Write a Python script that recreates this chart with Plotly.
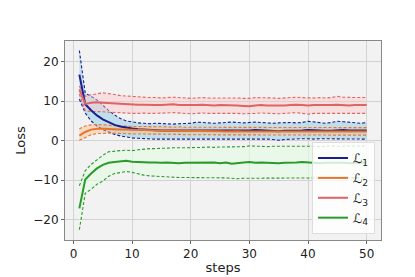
import plotly.graph_objects as go

steps = list(range(1, 51))

l1_mean = [16.7, 9.2, 7.7, 6.4, 5.4, 4.6, 4.0, 3.6, 3.3, 3.1, 2.9, 2.8, 2.7, 2.7, 2.6, 2.6, 2.6, 2.6, 2.6, 2.6,
           2.6, 2.5, 2.6, 2.5, 2.5, 2.6, 2.5, 2.5, 2.6, 2.6, 2.7, 2.6, 2.5, 2.5, 2.4, 2.5, 2.5, 2.6, 2.6, 2.7,
           2.6, 2.6, 2.5, 2.5, 2.6, 2.7, 2.6, 2.6, 2.5, 2.6]
l1_upper = [22.8, 12.0, 11.2, 10.3, 9.0, 7.6, 6.5, 5.6, 5.0, 4.7, 4.5, 4.4, 4.3, 4.4, 4.3, 4.3, 4.2, 4.3, 4.3, 4.4,
            4.7, 4.6, 4.5, 4.4, 4.5, 4.6, 4.7, 4.6, 4.5, 4.6, 4.7, 4.6, 4.5, 4.4, 4.5, 4.6, 4.6, 4.5, 4.6, 4.9,
            4.7, 4.5, 4.4, 4.6, 4.9, 4.8, 4.7, 4.5, 4.4, 4.6]
l1_lower = [10.5, 7.0, 5.0, 3.7, 2.8, 2.1, 1.6, 1.2, 0.9, 0.7, 0.6, 0.5, 0.5, 0.4, 0.4, 0.4, 0.5, 0.4, 0.4, 0.5,
            0.5, 0.4, 0.4, 0.5, 0.4, 0.4, 0.5, 0.5, 0.4, 0.5, 0.5, 0.4, 0.4, 0.3, 0.1, 0.3, 0.4, 0.4, 0.5, 0.5,
            0.4, 0.5, 0.5, 0.4, 0.4, 0.5, 0.4, 0.4, 0.5, 0.4]

l2_mean = [1.3, 2.2, 2.8, 3.0, 3.0, 2.9, 2.9, 2.8, 2.8, 2.7, 2.7, 2.7, 2.6, 2.6, 2.6, 2.5, 2.5, 2.5, 2.5, 2.4,
           2.4, 2.4, 2.4, 2.4, 2.4, 2.3, 2.4, 2.4, 2.3, 2.3, 2.4, 2.3, 2.3, 2.3, 2.3, 2.4, 2.3, 2.3, 2.3, 2.3,
           2.3, 2.3, 2.3, 2.3, 2.4, 2.3, 2.3, 2.3, 2.3, 2.3]
l2_upper = [3.0, 3.7, 4.0, 4.1, 4.0, 3.9, 3.8, 3.8, 3.7, 3.6, 3.6, 3.6, 3.5, 3.5, 3.5, 3.5, 3.4, 3.5, 3.4, 3.4,
            3.4, 3.4, 3.4, 3.4, 3.3, 3.4, 3.4, 3.3, 3.3, 3.4, 3.4, 3.3, 3.3, 3.3, 3.3, 3.4, 3.3, 3.3, 3.3, 3.3,
            3.3, 3.3, 3.4, 3.3, 3.3, 3.3, 3.3, 3.3, 3.3, 3.3]
l2_lower = [0.1, 0.9, 1.5, 1.8, 1.9, 1.9, 1.9, 1.8, 1.8, 1.7, 1.7, 1.7, 1.7, 1.6, 1.6, 1.6, 1.6, 1.6, 1.5, 1.5,
            1.5, 1.5, 1.5, 1.5, 1.5, 1.4, 1.5, 1.5, 1.4, 1.4, 1.5, 1.4, 1.4, 1.4, 1.4, 1.5, 1.4, 1.4, 1.4, 1.4,
            1.4, 1.4, 1.4, 1.4, 1.5, 1.4, 1.4, 1.4, 1.4, 1.4]

l3_mean = [13.0, 9.3, 9.6, 9.7, 9.6, 9.5, 9.4, 9.3, 9.2, 9.2, 9.1, 9.1, 9.0, 9.0, 9.0, 9.1, 9.2, 9.0, 9.0, 8.9,
           9.0, 9.1, 9.0, 8.9, 9.0, 9.0, 8.9, 8.9, 8.8, 8.7, 8.9, 9.0, 8.9, 8.9, 8.8, 8.9, 9.0, 9.1, 9.0, 8.9,
           9.0, 9.0, 8.9, 9.0, 9.1, 9.0, 8.9, 9.0, 9.0, 9.0]
l3_upper = [13.8, 11.2, 11.6, 11.9, 12.1, 11.9, 11.6, 11.4, 11.3, 11.2, 11.0, 10.9, 10.9, 10.9, 10.8, 10.9, 11.0, 10.9, 10.8, 10.7,
            10.8, 10.9, 10.8, 10.8, 10.9, 10.9, 10.8, 10.8, 10.7, 10.7, 10.9, 10.9, 10.8, 10.8, 10.7, 10.8, 10.9, 11.0, 10.9, 10.8,
            10.8, 10.9, 10.8, 10.9, 11.2, 11.0, 10.9, 10.9, 10.9, 10.9]
l3_lower = [11.8, 7.6, 7.4, 7.4, 7.3, 7.2, 7.1, 7.0, 7.0, 6.9, 6.9, 7.0, 6.9, 6.9, 6.9, 7.0, 7.1, 7.0, 6.9, 6.8,
            6.9, 7.0, 6.9, 6.9, 6.9, 7.0, 6.9, 6.9, 6.8, 6.8, 6.9, 7.0, 6.9, 6.9, 6.8, 6.9, 7.0, 7.1, 6.9, 6.7,
            6.9, 6.9, 6.9, 7.0, 7.0, 6.9, 6.9, 7.0, 6.9, 6.9]

l4_mean = [-17.1, -9.8, -8.3, -7.0, -6.1, -5.6, -5.4, -5.3, -5.1, -5.3, -5.4, -5.5, -5.5, -5.5, -5.6, -5.5, -5.6, -5.7, -5.6, -5.6,
           -5.5, -5.6, -5.6, -5.5, -5.7, -5.5, -5.8, -5.6, -5.5, -5.4, -5.6, -5.5, -5.6, -5.7, -5.7, -5.6, -5.6, -5.5, -5.4, -5.5,
           -5.6, -5.7, -5.6, -5.6, -5.5, -5.6, -5.7, -5.6, -5.6, -5.6]
l4_upper = [-11.4, -7.6, -6.0, -4.8, -3.7, -2.8, -2.6, -2.5, -2.4, -2.5, -2.3, -2.1, -2.0, -2.0, -1.9, -1.9, -1.8, -1.8, -1.8, -1.7,
            -1.8, -1.7, -1.6, -1.7, -1.6, -1.6, -1.5, -1.6, -1.5, -1.3, -1.4, -1.5, -1.5, -1.4, -1.4, -1.4, -1.3, -1.3, -1.4, -1.3,
            -1.4, -1.5, -1.4, -1.3, -1.4, -1.4, -1.3, -1.3, -1.4, -1.3]
l4_lower = [-22.5, -13.3, -12.3, -11.0, -10.2, -9.0, -8.3, -8.0, -7.8, -8.0, -8.4, -8.7, -8.9, -9.0, -9.1, -9.2, -9.2, -9.3, -9.3, -9.3,
            -9.3, -9.3, -9.3, -9.3, -9.3, -9.4, -9.5, -9.6, -9.5, -9.5, -9.5, -9.4, -9.5, -9.5, -9.5, -9.4, -9.4, -9.5, -9.5, -9.4,
            -9.4, -9.4, -9.3, -9.4, -9.4, -9.4, -9.3, -9.4, -9.4, -9.4]

labels = ["ℒ<sub>1</sub>", "ℒ<sub>2</sub>", "ℒ<sub>3</sub>", "ℒ<sub>4</sub>"]
x_ticks = [0, 10, 20, 30, 40, 50]
y_ticks = [-20, -10, 0, 10, 20]

series = [
    (l1_mean, l1_upper, l1_lower, "#1a1f90", "rgba(160,210,230,0.6)"),
    (l2_mean, l2_upper, l2_lower, "#e8742c", "rgba(250,185,130,0.4)"),
    (l3_mean, l3_upper, l3_lower, "#dc6464", "rgba(252,200,200,0.45)"),
    (l4_mean, l4_upper, l4_lower, "#2a9a2a", "rgba(228,252,228,0.6)"),
]

fig = go.Figure()
for i, (m, up, lo, col, fillc) in enumerate(series):
    fig.add_trace(go.Scatter(x=steps, y=lo, mode="lines", line=dict(color=col, width=1.1, dash="3px,2px"),
                             opacity=0.8, showlegend=False, hoverinfo="skip"))
    fig.add_trace(go.Scatter(x=steps, y=up, mode="lines", line=dict(color=col, width=1.1, dash="3px,2px"),
                             fill="tonexty", fillcolor=fillc, opacity=0.8, showlegend=False, hoverinfo="skip"))
for i, (m, up, lo, col, fillc) in enumerate(series):
    fig.add_trace(go.Scatter(x=steps, y=m, mode="lines", line=dict(color=col, width=2), name=labels[i]))

fig.update_layout(
    width=415, height=277,
    margin=dict(l=52, r=42, t=33, b=35),
    paper_bgcolor="white", plot_bgcolor="#f2f2f2",
    font=dict(family="DejaVu Sans", size=12, color="#222"),
    legend=dict(x=0.981, y=0.03, xanchor="right", yanchor="bottom", traceorder="normal",
                bgcolor="rgba(255,255,255,0.8)", bordercolor="#dddddd", borderwidth=1,
                font=dict(size=13, color="#222"), tracegroupgap=0, itemwidth=30),
    xaxis=dict(range=[-1.45, 52.45], tickvals=x_ticks, showgrid=True, gridcolor="#d2d2d2",
               zeroline=False, showline=True, linecolor="#888", mirror=True, ticks="outside",
               ticklen=3, tickcolor="#666", title=dict(text="steps", standoff=2, font=dict(size=13))),
    yaxis=dict(range=[-25.1, 25.2], tickvals=y_ticks, showgrid=True, gridcolor="#d2d2d2",
               zeroline=False, showline=True, linecolor="#888", mirror=True, ticks="outside",
               ticklen=3, tickcolor="#666", title=dict(text="Loss", standoff=4, font=dict(size=13))),
)

fig.write_html("out.html")
